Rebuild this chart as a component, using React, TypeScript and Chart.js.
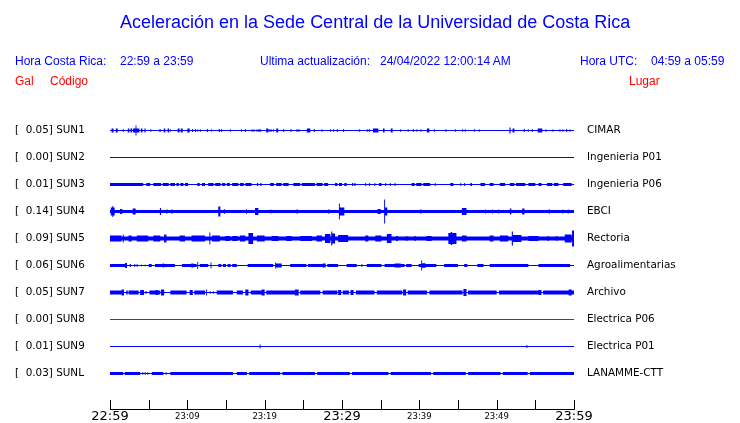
import React, { useEffect, useRef } from 'react';
import { Chart, registerables } from 'chart.js';

Chart.register(...registerables);

// ---------------- data ----------------
const stationCodes = ['SUN1', 'SUN2', 'SUN3', 'SUN4', 'SUN5', 'SUN6', 'SUN7', 'SUN8', 'SUN9', 'SUNL'];
const peakGal = [0.05, 0.0, 0.01, 0.14, 0.09, 0.06, 0.05, 0.0, 0.01, 0.03];
const places = ['CIMAR', 'Ingenieria P01', 'Ingenieria P06', 'EBCI', 'Rectoria', 'Agroalimentarias', 'Archivo', 'Electrica P06', 'Electrica P01', 'LANAMME-CTT'];
const traceColors = ['#0000ff', '#0000ff', '#0000ff', '#0000ff', '#0000ff', '#0000ff', '#0000ff', '#ee0000', '#0000ff', '#0000ff'];
const timeLabels = ['22:59', '23:09', '23:19', '23:29', '23:39', '23:49', '23:59'];
const majorTimes = [0, 30, 60];

// base (continuous) half-amplitude per trace
const baseLevels = [0, 0, 0, 1.6, 2, 0, 0, 0, 0, 0];

// bursts: [start minute, end minute, half-amplitude]
const sun1Bursts = [[0.2,0.45,2],[0.75,1.0,2],[1.65,1.8,1.2],[2.3,2.5,2],[2.65,2.85,2],[2.95,3.3,2],[3.3,3.42,5],[3.42,3.8,2],[4.0,4.2,2],[4.45,4.6,2],[5.2,5.33,1.2],[6.4,6.55,1.5],[6.95,7.15,2],[7.45,7.65,2],[7.75,7.85,1.2],[8.75,9.0,2],[9.15,9.4,2],[10.0,10.3,2],[10.62,10.75,1.5],[10.97,11.1,1.5],[11.3,11.4,1.2],[11.62,11.74,1.2],[12.52,12.66,1.5],[13.1,13.2,1.2],[14.05,14.2,1.5],[14.38,14.5,1.5],[15.5,15.62,1.2],[16.96,17.08,1.2],[17.44,17.56,1.5],[18.3,18.42,1.2],[18.56,18.68,1.2],[18.95,19.07,1.2],[19.2,19.34,1.5],[19.42,19.54,1.2],[20.2,20.45,2],[20.5,20.62,1.5],[20.76,20.88,1.5],[21.06,21.18,1.2],[21.5,21.75,2],[22.4,22.52,1.5],[23.34,23.46,1.5],[24.12,24.24,1.5],[24.38,24.5,1.5],[25.45,25.9,2],[26.36,26.48,1.5],[27.35,27.47,1.2],[28.47,28.6,1.2],[28.86,28.98,1.2],[29.33,29.45,1.5],[30.15,30.27,1.5],[32.22,32.34,1.2],[33.21,33.33,1.2],[33.47,33.6,1.5],[34.0,34.7,2],[35.3,35.5,2],[36.3,36.55,2],[37.52,37.64,1.2],[38.5,38.62,1.2],[39.16,39.28,1.5],[39.63,39.75,1.2],[40.15,40.27,1.2],[40.98,41.3,2],[41.88,42.0,1.2],[43.38,43.5,1.2],[44.63,44.75,1.2],[45.54,45.66,1.2],[45.88,46.0,1.2],[47.05,47.17,1.2],[47.69,47.81,1.2],[51.65,51.8,3],[52.05,52.3,2],[53.5,53.64,1.5],[54.03,54.15,1.2],[54.55,54.67,1.5],[55.3,55.9,2],[56.31,56.43,1.2],[57.22,57.34,1.2],[58.12,58.24,1.2],[58.51,58.63,1.2],[58.98,59.12,1.5],[59.42,59.54,1.2]];
const sun2Bursts: number[][] = [];
const sun3Bursts = [[0,4.3,1.5],[4.7,5.2,1.4],[5.6,6.6,1.4],[6.8,7.6,1.4],[7.8,8.4,1.4],[8.6,8.9,1.4],[9.1,9.5,1.4],[9.7,10.1,1.4],[11.3,11.6,1.4],[11.9,12.3,1.4],[12.7,13.4,1.4],[13.6,14.3,1.4],[14.5,14.9,1.4],[15.1,15.5,1.4],[15.8,16.6,1.4],[16.8,17.3,1.4],[17.5,18.3,1.4],[19.0,19.15,1.4],[19.45,19.6,1.4],[20.7,21.2,1.4],[21.5,22.2,1.4],[22.4,23.1,1.4],[23.7,24.6,1.4],[24.8,26.5,1.4],[26.7,27.5,1.4],[27.7,28.2,1.4],[29.1,29.4,1.4],[29.6,30.0,1.4],[30.3,30.6,1.4],[31.3,31.45,1.4],[31.6,31.75,1.4],[33.0,33.12,1.4],[33.5,33.62,1.4],[34.2,34.32,1.4],[34.8,35.1,1.4],[35.6,35.72,1.4],[36.2,36.32,1.4],[36.8,36.92,1.4],[39.0,39.4,1.4],[39.6,40.3,1.4],[40.5,41.4,1.4],[42.0,42.12,1.4],[44.0,44.4,1.4],[45.3,45.42,1.4],[45.8,45.92,1.4],[46.6,46.8,1.4],[47.9,48.5,1.4],[49.1,49.6,1.4],[50.4,51.1,1.4],[51.7,52.3,1.4],[52.5,53.7,1.4],[54.1,55.0,1.4],[55.4,55.8,1.4],[56.5,57.2,1.4],[57.4,58.0,1.4],[58.6,59.7,1.4]];
const sun4Bursts = [[0.1,0.6,4],[0.3,0.42,5.5],[1.29,1.6,2.5],[2.93,3.32,3],[6.45,6.6,3.5],[7.3,7.42,2.2],[7.95,8.07,2.2],[14.0,14.27,5],[14.72,14.84,2.5],[17.6,17.72,2.2],[18.75,19.18,3.5],[20.76,20.88,2],[24.14,24.26,2.2],[28.24,28.36,2.2],[29.6,29.72,8],[29.72,30.3,4],[34.6,35.0,2.5],[35.45,35.57,12],[35.57,35.85,4],[40.14,40.26,2.2],[45.5,46.1,3.5],[48.5,48.62,2],[49.4,49.52,2],[50.2,50.32,2],[51.7,51.9,3],[53.3,53.6,3],[56.74,56.86,2.2],[58.5,58.62,2],[59.2,59.32,2]];
const sun5Bursts = [[0,1.5,3],[1.66,1.78,4],[2.4,2.8,3],[3.45,4.95,3],[5.6,6.5,3],[7.0,7.3,4],[9.0,9.7,3],[10.55,12.3,3],[12.85,12.97,6],[13.2,14.2,3],[14.9,15.5,2.6],[15.8,16.5,2.6],[16.8,17.5,3],[17.9,18.5,5.5],[19.0,20.0,3],[20.9,21.8,2.6],[22.8,23.5,2.6],[24.6,26.1,2.6],[26.7,27.4,3],[27.8,28.5,4.5],[28.6,28.74,7],[28.74,29.1,5],[29.5,30.8,3.5],[33.0,33.4,3],[34.3,35.1,3],[35.8,36.4,4.5],[37.0,37.25,2.6],[38.3,38.45,2.6],[39.4,39.55,2.6],[40.9,41.6,2.6],[43.75,44.8,5.5],[44.05,44.25,6.5],[45.5,46.1,3],[49.1,49.6,3],[50.4,51.5,3],[51.95,52.1,7],[52.1,53.2,3.5],[54.1,55.4,2.6],[56.6,56.75,2.6],[57.7,57.85,2.6],[58.8,59.7,4],[59.75,60,8]];
const sun6Bursts = [[0,1.94,1.5],[1.94,2.2,2.5],[2.55,2.7,1.5],[3.15,3.27,1.5],[3.45,3.57,1.5],[4.0,4.1,1.0],[4.5,4.6,1.0],[5.0,5.4,1.5],[5.82,8.4,1.5],[6.8,7.0,1.9],[9.3,11.2,1.5],[10.5,10.8,1.9],[11.28,11.4,3.5],[11.6,12.7,1.5],[13.0,13.12,3],[14.0,14.4,1.5],[14.6,15.0,1.5],[15.2,15.6,1.5],[15.8,16.4,1.5],[17.8,21.1,1.5],[21.35,21.47,3],[21.47,22.2,2],[23.3,25.4,1.5],[25.6,27.5,1.5],[27.5,27.9,1.9],[28.1,29.5,1.5],[30.6,31.9,1.5],[32.5,32.62,1.5],[33.2,35.1,1.5],[35.5,38.1,1.5],[36.8,37.6,2],[38.3,39.0,1.5],[39.9,42.2,1.5],[40.24,40.36,5],[40.3,40.8,2.2],[43.2,45.0,1.5],[45.8,46.2,1.5],[47.5,48.3,1.5],[49.1,54.1,1.5],[55.4,59.5,1.5]];
const sun7Bursts = [[0,1.5,2],[1.5,1.8,3],[2.1,2.3,2],[2.4,3.3,2],[2.9,3.7,2],[3.9,4.4,2.5],[4.6,4.72,1.5],[5.1,6.5,2],[5.9,6.2,2.5],[6.6,7.0,3],[7.8,9.9,2],[10.3,10.7,2.5],[10.9,12.3,2],[12.44,12.56,3],[12.9,13.0,1.5],[13.3,13.4,1.5],[13.8,15.9,2],[16.4,17.2,2],[17.5,17.9,3],[18.2,19.6,2],[19.6,20.0,3],[20.2,23.9,2],[23.9,24.4,3],[24.6,27.2,2],[27.5,29.4,2],[29.5,29.9,2.6],[30.1,30.9,2],[31.1,31.5,2.4],[31.8,34.2,2],[34.5,37.8,2],[37.9,38.3,3],[38.5,41.0,2],[41.3,45.6,2],[45.7,46.1,3.5],[46.3,50.0,2],[50.3,55.4,2],[55.4,55.8,2.5],[56.0,59.3,2],[59.3,59.7,3],[59.7,60,2]];
const sun8Bursts: number[][] = [];
const sun9Bursts = [[19.35,19.47,2],[53.85,53.97,1.5]];
const sunLBursts = [[0,1.7,1.4],[1.9,3.9,1.4],[4.2,4.3,1.4],[4.5,4.6,1.4],[4.85,4.95,1.4],[5.4,6.9,1.4],[7.2,7.3,1.4],[7.8,15.9,1.4],[16.4,17.7,1.4],[18.0,22.0,1.4],[22.3,26.5,1.4],[26.8,31.0,1.4],[31.3,36.0,1.4],[36.3,41.5,1.4],[41.8,46.0,1.4],[46.3,50.5,1.4],[50.8,54.0,1.4],[54.3,60,1.4]];

const allBursts = [sun1Bursts, sun2Bursts, sun3Bursts, sun4Bursts, sun5Bursts, sun6Bursts, sun7Bursts, sun8Bursts, sun9Bursts, sunLBursts];

// ---------------- layout constants ----------------
const ROW_GAP = 27;
const T_MIN = 0;
const T_MAX = 60;
const Y_MIN = -14.5;
const Y_MAX = (stationCodes.length - 1) * ROW_GAP + 35.5;
const FONT_LABEL = 'DejaVu Sans';
const FONT_HEAD = '"Liberation Sans", Arial, sans-serif';

function envelope(base: number, bursts: number[][]) {
  const edges = new Set<number>([T_MIN, T_MAX]);
  bursts.forEach(([s, e]) => { edges.add(s); edges.add(e); });
  const xs = Array.from(edges).filter((x) => x >= T_MIN && x <= T_MAX).sort((a, b) => a - b);
  return xs.map((x) => {
    let a = base;
    bursts.forEach(([s, e, h]) => { if (x >= s && x < e) a = Math.max(a, h); });
    return { x, a };
  });
}

const axisPlugin = {
  id: 'seisAxis',
  afterDraw(chart: any) {
    const xs = chart.scales.x;
    const ctx = chart.ctx;
    const yb = Math.floor(chart.chartArea.bottom) + 0.5;
    ctx.save();
    ctx.strokeStyle = '#000';
    ctx.lineWidth = 1;
    ctx.beginPath();
    const left = Math.round(xs.getPixelForValue(T_MIN));
    const right = Math.round(xs.getPixelForValue(T_MAX));
    ctx.moveTo(left, yb);
    ctx.lineTo(right + 1, yb);
    xs.ticks.forEach((t: any) => {
      const px = Math.round(xs.getPixelForValue(t.value)) + 0.5;
      ctx.moveTo(px, yb - 9.5);
      ctx.lineTo(px, yb);
    });
    ctx.stroke();
    ctx.restore();
  },
};

const noPad = (s: any) => {
  s.paddingTop = 0;
  s.paddingBottom = 0;
  s.paddingLeft = 0;
  s.paddingRight = 0;
};

export default function App() {
  const ref = useRef<HTMLCanvasElement | null>(null);

  useEffect(() => {
    if (!ref.current) return;
    const datasets: any[] = [];
    stationCodes.forEach((_, i) => {
      const c = i * ROW_GAP;
      const env = envelope(baseLevels[i], allBursts[i]);
      const color = traceColors[i];
      const common = {
        type: 'line',
        stepped: true,
        pointRadius: 0,
        borderWidth: 1,
        borderColor: 'rgba(0,0,0,0)',
        backgroundColor: color,
        fill: { value: c },
        xAxisID: 'x',
        yAxisID: 'y',
      };
      datasets.push({ ...common, label: stationCodes[i] + ' up', data: env.map((p) => ({ x: p.x, y: c - p.a })) });
      datasets.push({ ...common, label: stationCodes[i] + ' down', data: env.map((p) => ({ x: p.x, y: c + p.a })) });
      datasets.push({
        type: 'line',
        label: stationCodes[i],
        data: [{ x: T_MIN, y: c }, { x: T_MAX, y: c }],
        borderColor: color,
        borderWidth: 1,
        pointRadius: 0,
        fill: false,
        xAxisID: 'x',
        yAxisID: 'y',
      });
    });

    const rowTicks = (scale: any) => {
      scale.ticks = stationCodes.map((_, i) => ({ value: i * ROW_GAP }));
    };

    const chart = new Chart(ref.current, {
      type: 'line',
      data: { datasets },
      plugins: [axisPlugin],
      options: {
        animation: false,
        responsive: false,
        devicePixelRatio: 1,
        layout: { autoPadding: false, padding: { top: 116, left: 15, right: 0, bottom: 0 } },
        plugins: { legend: { display: false }, tooltip: { enabled: false }, title: { display: false } },
        scales: {
          x: {
            type: 'linear',
            min: T_MIN,
            max: T_MAX,
            grid: { display: false, drawTicks: false },
            border: { display: false },
            afterFit: (s: any) => { s.height = 14; noPad(s); },
            ticks: {
              stepSize: 5,
              autoSkip: false,
              maxRotation: 0,
              padding: 0,
              color: '#000',
              callback: (v: any) => (Number(v) % 10 === 0 ? timeLabels[Number(v) / 10] : ''),
              font: (ctx: any) => ({
                family: FONT_LABEL,
                size: ctx.tick && majorTimes.includes(ctx.tick.value) ? 13 : 8.5,
                lineHeight: '16px',
              }),
            },
          },
          y: {
            type: 'linear',
            position: 'left',
            reverse: true,
            min: Y_MIN,
            max: Y_MAX,
            grid: { display: false, drawTicks: false },
            border: { display: false },
            afterBuildTicks: rowTicks,
            afterFit: (s: any) => { s.width = 95; noPad(s); },
            ticks: {
              crossAlign: 'far',
              padding: 0,
              color: '#000',
              font: { family: FONT_LABEL, size: 10.4 },
              callback: (_v: any, i: number) => `[  ${peakGal[i].toFixed(2)}] ${stationCodes[i]}`,
            },
          },
          y2: {
            type: 'linear',
            position: 'right',
            reverse: true,
            min: Y_MIN,
            max: Y_MAX,
            grid: { display: false, drawTicks: false },
            border: { display: false },
            afterBuildTicks: rowTicks,
            afterFit: (s: any) => { s.width = 166; noPad(s); },
            ticks: {
              padding: 13,
              color: '#000',
              font: { family: FONT_LABEL, size: 10.4 },
              callback: (_v: any, i: number) => places[i],
            },
          },
        },
      } as any,
    });
    return () => chart.destroy();
  }, []);

  const blue = '#0000ff';
  const red = '#ff0000';
  const head = (text: string, left: number, top: number, color: string, size = 12) => (
    <div
      style={{
        position: 'absolute',
        left,
        top,
        color,
        fontFamily: FONT_HEAD,
        fontSize: size,
        lineHeight: size === 12 ? '14px' : '20px',
        whiteSpace: 'pre',
      }}
    >
      {text}
    </div>
  );

  return (
    <div style={{ position: 'absolute', left: 0, top: 0, width: 740, height: 423, background: '#fff' }}>
      <canvas ref={ref} width={740} height={423} style={{ display: 'block', width: 740, height: 423 }} />
      {head('Aceleración en la Sede Central de la Universidad de Costa Rica', 120, 11.5, blue, 18)}
      {head('Hora Costa Rica:', 15, 54, blue)}
      {head('22:59 a 23:59', 120, 54, blue)}
      {head('Ultima actualización:', 260, 54, blue)}
      {head('24/04/2022 12:00:14 AM', 380, 54, blue)}
      {head('Hora UTC:', 580, 54, blue)}
      {head('04:59 a 05:59', 651, 54, blue)}
      {head('Gal', 15, 74, red)}
      {head('Código', 50, 74, red)}
      {head('Lugar', 629, 74, red)}
    </div>
  );
}
